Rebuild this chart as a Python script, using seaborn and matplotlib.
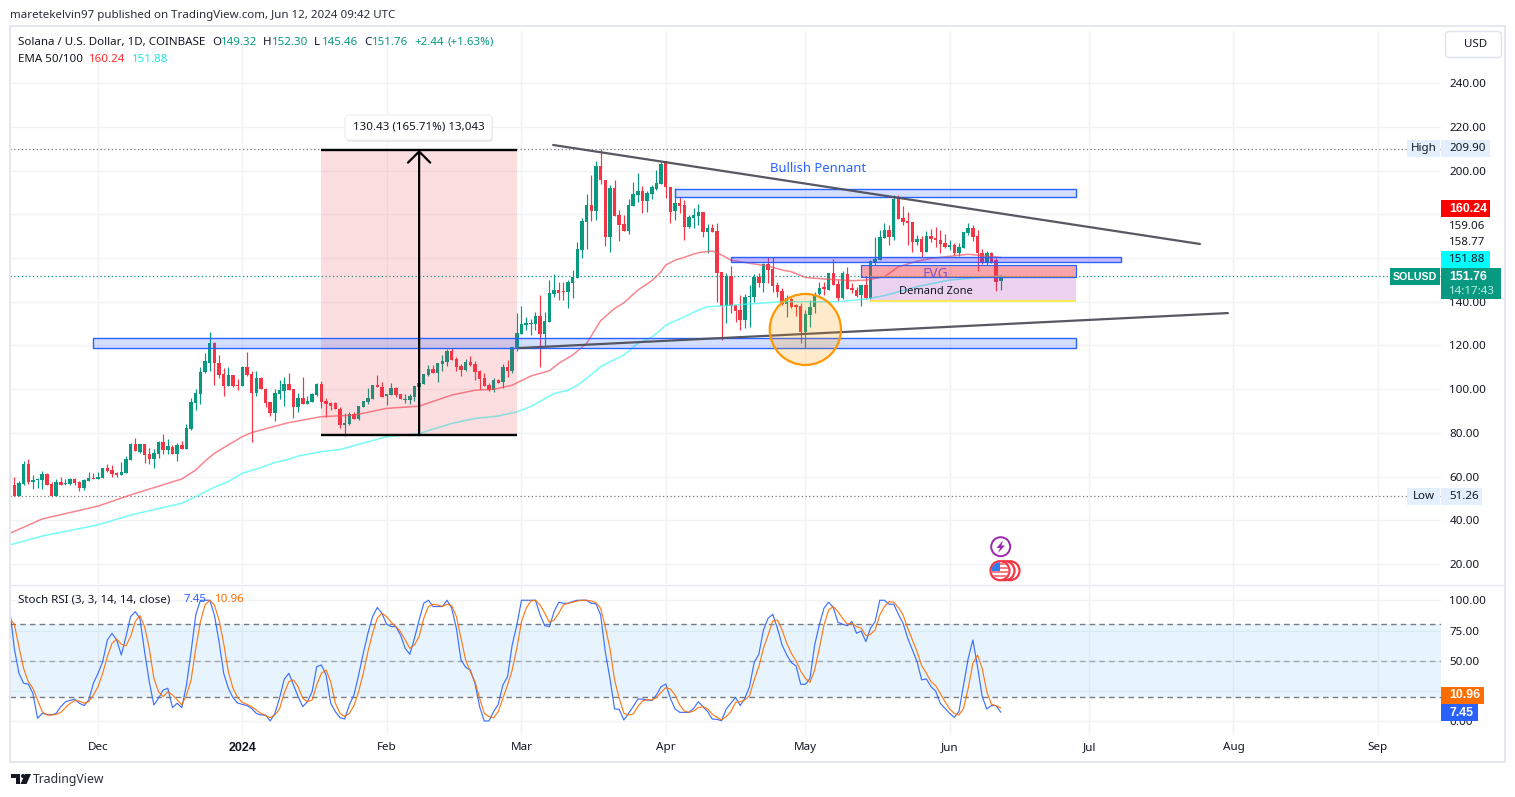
import numpy as np
import pandas as pd
import matplotlib.pyplot as plt
import seaborn as sns
from matplotlib.patches import Rectangle, Ellipse, Circle, FancyBboxPatch, Polygon

START = pd.Timestamp("2023-11-13")
GREEN = "#089981"
RED = "#f23645"
BLUE = "#2962ff"
ORANGE = "#ff6d00"
GRID = "#f1f2f6"
INK = "#131722"

opens = [
    57, 56.2, 51.1, 56.5, 65.8, 57.5, 58.5, 58.4, 61.2, 56.6, 51.1,
    57.5, 56.6, 56.6, 58.9, 57.7, 54.8, 58, 59.4, 59, 59.4,
    64, 62.8, 61.6, 60.7, 61.6, 67.6, 75, 71.2, 75, 70.3,
    68, 70.3, 75.8, 72.2, 73.5, 70.3, 74.4, 72.6, 81.8, 93.7,
    97.8, 107.8, 112, 121.1, 112, 107, 101.5, 106.5, 101.7, 101.5,
    110.1, 106.9, 98.2, 105.1, 100, 94.1, 89.1, 97.8, 99.2, 102.4,
    100, 91.8, 96, 93.2, 94.1, 97.3, 102.4, 94.6, 93.8, 93.8,
    90.7, 83.5, 84, 88.6, 86.4, 91.9, 94, 95.4, 101.8, 101.1,
    96.8, 97.3, 100.3, 97.7, 95, 95, 96.2, 100.8, 102.3, 106.4,
    109.2, 107.5, 111.4, 112.2, 117.5, 114, 110.7, 108.7, 112.2, 111.3,
    108.4, 105, 101.7, 99.5, 104.1, 103.4, 110, 108.1, 118.6, 125.2,
    129.4, 129.7, 129.7, 133.4, 125.2, 130.8, 143.5, 145.3, 144.9, 144.5,
    148.4, 150.9, 163.6, 176.6, 184.2, 181.4, 202, 195.9, 169.7, 192,
    179.6, 175.5, 172.3, 183.7, 188.6, 190.6, 186.2, 189.2, 191.4, 193.8,
    204.4, 192.6, 181.5, 185.3, 184.2, 174, 178.1, 179.2, 181.2, 172,
    173.6, 172.3, 153.4, 138.2, 151.8, 138.5, 136.2, 131.6, 142.3, 142.3,
    151.4, 148.4, 157.2, 154.8, 147.6, 145, 138.9, 141.2, 138.5, 138,
    126.3, 133.9, 137.4, 143.5, 146.6, 145.3, 153, 147.9, 141.5, 152.7,
    146.1, 145.3, 143, 147.6, 141.5, 158.3, 159.1, 169, 172.8, 169.4,
    187.3, 178.1, 176.9, 176.5, 167.5, 168.5, 162.9, 170, 169, 168.2,
    166.7, 164.9, 165.9, 162.4, 164.7, 171.3, 173.9, 170, 162.4, 157.6,
    162.1, 159.1, 149.32,
]
highs = [
    62.3, 60, 58, 67.3, 68, 60.7, 59.5, 62.6, 61.6, 57.7, 58.9,
    60, 58.9, 59.5, 59.4, 58, 58.9, 62, 61.6, 62, 64,
    65.8, 65.3, 62, 66.5, 69.4, 75.5, 77.7, 75, 75, 73,
    72.6, 76.3, 79.5, 77, 74.6, 75.4, 76.3, 84, 96, 100,
    110.1, 116.5, 126.2, 121.6, 115.6, 109.7, 110.1, 106.5, 104.6, 110.6,
    117, 108.3, 108.3, 105.6, 100.5, 94.1, 100, 104.2, 105.6, 107.4,
    100, 98.2, 105.6, 96.9, 98.2, 102.9, 103.7, 96, 94.3, 94.2,
    92, 88.9, 89.6, 89.6, 92.2, 94.7, 100.3, 101.8, 106.4, 103.1,
    98, 102.6, 101.1, 98, 98, 98, 101.4, 105.3, 106.9, 111,
    111, 112, 115.6, 118.2, 118.6, 114.5, 111.4, 114, 115.1, 112.8,
    108.7, 107.2, 102.9, 104.9, 104.7, 111.3, 113.3, 119.1, 134.9, 138,
    132.8, 132.3, 135.4, 143, 135.4, 149.9, 152.9, 148.8, 149.1, 149.9,
    154.5, 167.3, 178.5, 189.1, 197.9, 204.3, 210, 195.9, 193.3, 195.6,
    181.9, 179.6, 187.2, 194.9, 198.7, 192.9, 190.6, 193.3, 200.2, 204,
    204.4, 192.6, 191.9, 188, 186.5, 179.7, 182.7, 184.7, 181.2, 175.5,
    175.5, 176.2, 153.7, 153, 156.3, 138.5, 143, 143.5, 147.6, 152.7,
    153.3, 157.9, 160.3, 160.3, 149.2, 146.1, 143, 141.5, 139, 139.6,
    136, 141, 144.6, 149.2, 149.2, 153.3, 159.4, 149.9, 154.2, 156,
    148.4, 146.9, 147.6, 151.4, 159.1, 169.4, 172.8, 175.8, 175.1, 188.8,
    188.8, 183.8, 181.2, 176.6, 170.5, 170, 172.3, 173.1, 174, 172.8,
    171, 168.2, 166.7, 167, 172, 176.2, 175.1, 172.8, 163.9, 163.3,
    162.9, 159.8, 152.3,
]
lows = [
    54.3, 51, 51, 56.2, 56.6, 54.3, 54.8, 54.3, 56.2, 51, 51,
    56, 56.1, 56.2, 56.2, 53.4, 53.9, 58, 59, 59, 59.4,
    62, 59.8, 59.8, 60.7, 61.6, 67.6, 71.7, 70.8, 66.2, 65.8,
    64, 68.5, 70.3, 70.3, 70.3, 67.1, 72.6, 72.6, 81.3, 90.4,
    93.2, 107.4, 108.3, 101.9, 105.1, 96.9, 101.5, 101, 99.6, 101.5,
    106, 75.6, 96.9, 100, 92, 87.7, 85.6, 95.5, 92.3, 99.6,
    86.8, 89.6, 93.2, 93.2, 94.1, 96.9, 91.4, 87.1, 90.4, 90.7,
    82.3, 78.5, 83.5, 86.4, 86.1, 91.9, 93.4, 95.3, 101.2, 96.2,
    92.7, 97.3, 96.5, 95.3, 93.8, 93.2, 94.7, 100.8, 102.3, 106,
    107.2, 103.4, 108.4, 110.7, 113.3, 108.4, 106, 108.4, 110.7, 104.1,
    100, 101.4, 99.2, 98.8, 102.6, 100.6, 105.6, 107.2, 117.5, 125.2,
    127, 124.7, 127, 110.2, 120.1, 130.8, 142.2, 140.7, 140.7, 137.2,
    141.5, 150.9, 159.8, 163.9, 177, 177.3, 193.8, 165.6, 162.8, 179.2,
    167.7, 172.3, 171.2, 183.7, 185.7, 180.4, 181.1, 187.2, 191, 193.8,
    187.3, 176.2, 177.4, 180.4, 168.2, 173.6, 173.6, 175.1, 169.4, 162.1,
    172, 140, 122.5, 130.4, 134.7, 130.9, 127, 127.8, 128.6, 140,
    146.6, 144.6, 148.4, 144.6, 142.3, 138.5, 133.1, 137, 133.6, 121.3,
    118.7, 128.6, 134.7, 143, 143, 145.3, 147.6, 140.4, 141.1, 145.7,
    143.8, 142.3, 138.2, 141.2, 141.1, 156.8, 159.1, 169, 165.9, 168.2,
    177.8, 175.1, 166, 162.9, 165.9, 160.3, 162.9, 167.5, 165.2, 162.4,
    164.4, 163.7, 161.4, 160.9, 164.7, 170.5, 167.9, 154.2, 157.2, 156.8,
    157.6, 145, 145.46,
]
closes = [
    56.6, 51.1, 57, 65.8, 57.7, 58.4, 59, 61.2, 56.2, 51.1, 57.5,
    56.2, 57, 58.9, 57, 54.8, 58.4, 59.4, 59, 59.8, 64,
    62.6, 61.2, 60.7, 62, 68, 75, 71.7, 75, 69.9, 68,
    70.8, 75.8, 72.2, 74, 70.3, 74.6, 72.6, 82.2, 94.1, 98.2,
    107.8, 112.9, 121.1, 112, 106.5, 101.5, 106.5, 101.5, 101.5, 110.1,
    106.5, 98.2, 105.1, 100, 93.7, 89.1, 98.2, 99.6, 102.4, 99.6,
    91.8, 96, 93.2, 94.6, 97.8, 102.4, 94.1, 93.1, 92.5, 90.7,
    83.5, 84.3, 88.6, 86.4, 92.2, 94.5, 95.9, 101.8, 101.2, 96.5,
    97.7, 100.3, 97.3, 95.3, 95.3, 96.8, 101.4, 102.6, 106.9, 109.2,
    107.2, 112, 113, 117.5, 113.3, 110.2, 108.7, 112.2, 111, 108,
    104.6, 101.4, 99.5, 104.1, 103, 110, 108.4, 119.1, 125.5, 129.7,
    130.3, 130.3, 133.4, 125.2, 131.1, 143.8, 145.3, 144.2, 144.5, 148.8,
    151.4, 163.9, 177, 184.2, 181.4, 202, 195.6, 169.7, 192, 179.2,
    175, 172.3, 184.2, 189.2, 190.6, 186.2, 189.8, 192.3, 194.1, 202.8,
    192.3, 181.2, 185, 183.8, 174.3, 178.9, 179.7, 181.2, 172, 173.6,
    172, 153, 138.2, 151.8, 138.2, 135.7, 131.6, 142.3, 142.8, 151.4,
    148.7, 157.2, 154.5, 147.2, 144.6, 138.9, 141.5, 137.4, 137.7, 126.3,
    134.4, 137.4, 143.5, 146.1, 145.7, 153, 147.6, 141.5, 153, 145.7,
    145.3, 142.8, 147.6, 141.5, 158.8, 159.4, 169.4, 172.8, 169.4, 186.8,
    177.8, 176.6, 176.2, 167.5, 168.5, 162.9, 170, 168.5, 168.2, 166.4,
    165.2, 165.9, 162.4, 164.9, 172, 173.9, 169.4, 162.1, 157.6, 162.1,
    158.3, 149.2, 151.76,
]

# days counted from Nov 13 2023
ema50_days = [-1, 6, 18, 25, 36, 39, 41, 43, 46, 49, 51, 53, 59, 66, 73, 80, 87, 94,
              99, 103, 107, 111, 115, 117, 120, 123, 126, 129, 131, 134, 137, 139,
              140, 142, 144, 146, 147, 150, 152, 154, 158, 162, 165, 167, 170, 174,
              180, 183, 187, 190, 194, 197, 205, 212]
ema50_values = [34, 40.6, 46.5, 51.6, 58.9, 63, 67.1, 70.6, 74.5, 78.3, 80.1, 81.3,
                84.7, 87.4, 88.1, 91.2, 92.2, 97.3, 99.5, 99.9, 101.8, 106, 108.4,
                111.8, 115.6, 120.9, 131.3, 136.9, 139.5, 145.3, 149.6, 153.7, 156.8,
                159, 160.3, 161.8, 162.4, 163.2, 161.4, 159, 157.6, 156.3, 154.5,
                153.7, 151.1, 150.4, 149.6, 149.9, 151.4, 156, 158.5, 159.8, 161.7,
                160.24]
ema100_days = [-1, 6, 18, 25, 36, 39, 41, 43, 46, 49, 53, 56, 59, 61, 66, 70, 80, 87,
               94, 99, 104, 108, 111, 116, 119, 121, 123, 126, 128, 131, 134, 137,
               139, 140, 144, 147, 149, 155, 165, 177, 183, 187, 194, 201, 212]
ema100_values = [28.7, 32.8, 37.9, 42.4, 47.8, 50.8, 53, 55.1, 57.7, 61.5, 64.1, 66.4,
                 67.9, 69.4, 71.4, 72.4, 78.2, 79.7, 84.3, 86.6, 87.7, 89.6, 92, 98,
                 99.5, 101.8, 104.9, 110.2, 112.5, 115.6, 120.9, 123.7, 127.3, 129.3,
                 133.1, 136.2, 137.7, 138.5, 140, 140, 141.2, 142.8, 146.9, 149.9,
                 151.88]

stoch_k = [
    93.4, 60.3, 39.7, 31.4, 30.8, 23.1, 2.5, 6.6, 5.8, 5.2,
    6.6, 12.1, 16.2, 17.3, 18.4, 14.9, 13, 17.6, 31.4, 39.7,
    49.3, 67.2, 72.7, 67.2, 54.8, 70, 86.5, 90.6, 85.1, 57.6,
    32.8, 13.5, 19, 25.9, 27.3, 11.3, 14.9, 11.3, 30, 57.6,
    87.9, 100, 100, 100, 87.9, 65.8, 39.7, 27.3, 19.6, 15.1,
    14, 13, 10.7, 6.6, 5.2, 5.2, 0.3, 6.6, 19, 34.7,
    39.7, 30, 20.4, 12.1, 16.2, 24.5, 45.2, 46.6, 38.3, 14.9,
    8, 3, 1.9, 13.5, 21.8, 38.3, 56.2, 72.7, 86.5, 94,
    89.3, 80.2, 78.2, 78.2, 71.3, 60.3, 55.4, 68.6, 83.7, 97.5,
    100, 94.8, 94.8, 94.8, 100, 93.4, 76.9, 50.7, 44.6, 42.4,
    31.4, 12.1, 0.3, 0.3, 8, 14, 30, 36.9,
    63.1, 79.6, 100, 100, 100, 100, 87.9, 79, 78.2, 90.6,
    98.4, 97.5, 97.5, 98.9, 100, 100, 100, 97.5, 97, 87.9,
    57.6, 35.5, 10.2, 9.9, 1.1, 6.6, 12.1, 18.4, 18.4, 17.6,
    17.1, 21.8, 28.6, 30.8, 19, 10.2, 7.4, 7.4, 7.4, 10.7,
    16.2, 12.1, 8, 1.9, 1.6, 0.5, 10.2, 14.9, 19.8, 13,
    19, 28.6, 48.5, 55.4, 75.5, 85.1, 88.4, 76.9, 63.1, 54.8,
    48.5, 45.7, 30.6, 30.6, 35.5, 63.1, 79.6, 93.4, 98.4, 94,
    81.8, 80.2, 79, 82.4, 72.7, 74.6, 65.8, 76.9, 82.4, 100,
    100, 96.7, 96.7, 88.4, 81, 68.6, 59, 49.3, 34.2, 35,
    28.6, 25, 14.9, 10.7, 6.6, 3.3, 8, 30, 52, 67.2,
    45.2, 20.4, 10.2, 13, 13, 7.45,
]
stoch_d = [
    85.1, 80.2, 61.7, 43.8, 32.8, 27.3, 17.6, 8, 5.2, 5.2,
    5.8, 7.4, 11.3, 14.9, 17.1, 16.8, 14.9, 16.2, 21.8, 28.6,
    39.7, 53.4, 64.4, 68, 63.6, 62.3, 70, 82.4, 87.3, 78.2,
    60.3, 35.5, 24.5, 20.4, 24.5, 21.8, 17.6, 13.5, 21.8, 34.2,
    60.3, 82.4, 96.1, 100, 96.1, 83.7, 64.4, 41, 27.3, 19.6,
    15.7, 14, 12.1, 9.4, 6.6, 4.7, 3, 5.2, 10.2, 23.1,
    32.8, 34.2, 28.6, 19, 16.2, 17.6, 30, 39.7, 42.4, 32.8,
    14.9, 6.6, 3.9, 6.6, 13, 24.5, 39.7, 57.6, 72.7, 85.1,
    89.3, 86.5, 81.8, 78.2, 74.1, 67.2, 60.3, 63.1, 70, 85.1,
    94.8, 96.7, 96.1, 94.8, 96.7, 95.6, 86.5, 68.6, 50.7, 41,
    32.8, 19, 6.6, 3.9, 3, 8, 19, 30,
    42.4, 60.3, 82.4, 93.4, 99.4, 100, 96.1, 89.3, 81.8, 83.7,
    89.3, 96.1, 97.5, 98.4, 99.4, 100, 100, 99.4, 98, 93.4,
    78.2, 60.3, 34.2, 19, 6.6, 5.2, 6, 12.1, 16.8, 17.9,
    17.6, 19.6, 24, 27.8, 26.7, 21.8, 13.5, 8.5, 7.4, 8.5,
    11.3, 12.1, 10.2, 5.8, 3.3, 1.1, 3.9, 8, 15.7, 16.2,
    17.6, 21.2, 34.2, 45.2, 60.3, 71.3, 82.9, 83.7, 75.5, 64.4,
    56.2, 49.9, 41.6, 35.5, 32.2, 42.4, 60.3, 79.6, 92, 94.8,
    90.6, 85.1, 80.2, 81, 78.2, 76.9, 70.8, 71.9, 75.5, 87.9,
    94.8, 98.9, 98.4, 94, 87.9, 76.9, 67.2, 57.6, 46, 39.7,
    32.8, 29.5, 23.1, 16.2, 10.2, 6.6, 5.2, 10.7, 27.3, 47.9,
    54.8, 43.8, 24.5, 14, 13, 10.96,
]

month_labels = ["Dec", "2024", "Feb", "Mar", "Apr", "May", "Jun", "Jul", "Aug", "Sep"]
month_dates = ["2023-12-01", "2024-01-01", "2024-02-01", "2024-03-01", "2024-04-01",
               "2024-05-01", "2024-06-01", "2024-07-01", "2024-08-01", "2024-09-01"]
price_ticks = [20, 40, 60, 80, 100, 120, 140, 160, 180, 200, 220, 240]
hidden_price_ticks = [160, 180]
stoch_ticks = [0, 25, 50, 75, 100]

sns.set_theme(style="white")
plt.rcParams["font.family"] = ["Noto Sans", "DejaVu Sans"]
plt.rcParams["font.size"] = 8.4

fig = plt.figure(figsize=(15.15, 7.97), dpi=100, facecolor="white")
W, H = 1515, 797


def pane(left, top, right, bottom):
    return fig.add_axes([left / W, 1 - bottom / H, (right - left) / W, (bottom - top) / H])


ax = pane(10, 30, 1441, 584)
ax2 = pane(10, 585, 1441, 735)

# candles
candle_days = np.arange(-1, len(closes) - 1)
o = np.array(opens)
c = np.array(closes)
colors = [GREEN if b >= a else RED for a, b in zip(o, c)]
ax.vlines(candle_days, lows, highs, colors=colors, lw=0.85, zorder=3)
ax.bar(candle_days, np.maximum(np.abs(c - o), 0.3), bottom=np.minimum(o, c), width=0.74,
       color=colors, linewidth=0, zorder=4)

sns.lineplot(x=ema50_days, y=ema50_values, ax=ax, color="#f7525f", alpha=0.7, lw=1.1,
             errorbar=None, zorder=5)
sns.lineplot(x=ema100_days, y=ema100_values, ax=ax, color="#3dfbf3", alpha=0.7, lw=1.1,
             errorbar=None, zorder=5)

ax.axhline(209.9, color="#787b86", lw=0.9, ls=(0, (1, 2)), zorder=2)
ax.axhline(51.26, color="#787b86", lw=0.9, ls=(0, (1, 2)), zorder=2)
ax.axhline(151.76, color=GREEN, lw=0.9, ls=(0, (1, 2)), zorder=2)

# long position drawing
ax.add_patch(Rectangle((66, 79.0), 42, 130.43, fc=RED, alpha=0.16, lw=0, zorder=6))
ax.hlines([79.0, 209.43], 66, 108, color="black", lw=1.7, zorder=7)
ax.annotate("", xy=(87, 209.43), xytext=(87, 79.0), zorder=7,
            arrowprops=dict(arrowstyle="->,head_length=0.8,head_width=0.8",
                            lw=1.6, color="black", mutation_scale=10,
                            shrinkA=0, shrinkB=0))

# zones
ax.add_patch(Rectangle((16.9, 118.7), 211.3, 4.6, fc=BLUE, alpha=0.2, lw=0, zorder=6))
ax.add_patch(Rectangle((16.9, 118.7), 211.3, 4.6, fc="none", ec=BLUE, lw=1, zorder=6))
ax.add_patch(Rectangle((142, 187.7), 86.2, 3.7, fc=BLUE, alpha=0.2, lw=0, zorder=6))
ax.add_patch(Rectangle((142, 187.7), 86.2, 3.7, fc="none", ec=BLUE, lw=1, zorder=6))
ax.add_patch(Rectangle((184, 140.4), 44.2, 10.7, fc="#9c27b0", alpha=0.2, lw=0, zorder=6))
ax.hlines([140.4, 151.1], 184, 228.2, color="#ffeb3b", lw=1.2, zorder=6)
ax.add_patch(Rectangle((182, 151.1), 46.2, 5.5, fc=RED, alpha=0.45, lw=0, zorder=6))
ax.add_patch(Rectangle((182, 151.1), 46.2, 5.5, fc="none", ec=BLUE, lw=0.9, zorder=6))
ax.add_patch(Rectangle((154, 158.3), 83.9, 2.0, fc="#5e35f0", alpha=0.35, lw=0, zorder=6))
ax.add_patch(Rectangle((154, 158.3), 83.9, 2.0, fc="none", ec=BLUE, lw=1, zorder=6))

# trend lines and circle
ax.plot([115.8, 254.8], [211.7, 166.4], color="#4f4f5a", lw=1.6, alpha=0.95, zorder=7)
ax.plot([108.5, 260.8], [118.8, 134.8], color="#4f4f5a", lw=1.6, alpha=0.95, zorder=7)
ax.add_patch(Ellipse((170, 127.3), 15.3, 32.5, fc="#ff9800", alpha=0.2, lw=0, zorder=7))
ax.add_patch(Ellipse((170, 127.3), 15.3, 32.5, fc="none", ec="#ff9800", lw=1.6, zorder=8))

# stoch pane
k_days = np.arange(-1, len(stoch_k) - 1)
d_days = np.arange(-1, len(stoch_d) - 1)
ax2.axhspan(20, 80, color="#2196f3", alpha=0.1, lw=0, zorder=1)
ax2.axhline(80, color="#787b86", lw=1, ls=(0, (4, 3)), zorder=2)
ax2.axhline(20, color="#787b86", lw=1, ls=(0, (4, 3)), zorder=2)
ax2.axhline(50, color="#787b86", lw=1, ls=(0, (4, 3)), alpha=0.6, zorder=2)
sns.lineplot(x=k_days, y=stoch_k, ax=ax2, color="#2962ff", lw=0.85, alpha=0.9,
             errorbar=None, zorder=3)
sns.lineplot(x=d_days, y=stoch_d, ax=ax2, color=ORANGE, lw=0.85, alpha=0.9,
             errorbar=None, zorder=4)

# axes
month_pos = [(pd.Timestamp(m) - START).days for m in month_dates]
for a in (ax, ax2):
    a.set_xlim(-0.92, 306.6)
    a.set_xlabel("")
    a.set_ylabel("")
    a.set_facecolor("white")
    a.grid(True, color=GRID, lw=1)
    a.set_axisbelow(True)
    for s in a.spines.values():
        s.set_visible(False)
    a.set_xticks(month_pos)
    a.yaxis.tick_right()
    a.tick_params(axis="y", length=0, pad=6, labelsize=8.4, labelcolor=INK)
    a.tick_params(axis="x", length=0, pad=5, labelsize=8.4, labelcolor=INK)
ax.set_ylim(10.85, 264.3)
ax.set_yticks(price_ticks)
ax.set_yticklabels(["" if t in hidden_price_ticks else f"{t:.2f}" for t in price_ticks])
ax.tick_params(axis="x", labelbottom=False)
ax2.set_ylim(-11.3, 112.6)
ax2.set_yticks(stoch_ticks)
ax2.set_yticklabels(["" if t == 25 else f"{t:.2f}" for t in stoch_ticks])
ax2.set_xticklabels(month_labels)
for lab in ax2.get_xticklabels():
    if lab.get_text() == "2024":
        lab.set_fontweight("bold")
        lab.set_family("Liberation Sans")
        lab.set_fontsize(9)

# overlay in pixels for the frame, tags and headers
ov = fig.add_axes([0, 0, 1, 1], zorder=10)
ov.set_xlim(0, W)
ov.set_ylim(H, 0)
ov.axis("off")
ov.patch.set_alpha(0)


def label(x, y, s, color=INK, size=8.3, ha="left", weight="normal", **kw):
    if weight == "bold":
        kw.setdefault("family", "Liberation Sans")
        size = size + 0.6
    ov.text(x, y, s, color=color, fontsize=size, ha=ha, va="center", fontweight=weight, **kw)


def tag(x0, y0, x1, y1, color):
    ov.add_patch(Rectangle((x0, y0), x1 - x0, y1 - y0, fc=color, lw=0))


ov.add_patch(Rectangle((10, 26), 1495, 736, fc="none", ec="#e6e8f0", lw=1.4))
ov.plot([10, 1505], [584.5, 584.5], color="#e6e8f0", lw=1)

label(10, 15, "maretekelvin97 published on TradingView.com, Jun 12, 2024 09:42 UTC", color="#2a2e39")
label(18, 42, "Solana / U.S. Dollar, 1D, COINBASE")
for x, s, col in [(212, "O", INK), (221, "149.32", GREEN), (263, "H", INK), (272, "152.30", GREEN),
                  (314, "L", INK), (322, "145.46", GREEN), (364, "C", INK), (372, "151.76", GREEN),
                  (414, "+2.44", GREEN), (448, "(+1.63%)", GREEN)]:
    label(x, 42, s, color=col)
label(18, 59, "EMA 50/100")
label(89, 59, "160.24", color="#ff2a2a")
label(132, 59, "151.88", color="#18e8e8")
label(18, 600, "Stoch RSI (3, 3, 14, 14, close)")
label(184, 600, "7.45", color=BLUE)
label(215, 600, "10.96", color=ORANGE)

# USD button
ov.add_patch(FancyBboxPatch((1447, 33), 53, 23, boxstyle="round,pad=1.5,rounding_size=4",
                            fc="white", ec="#e0e3eb", lw=1))
label(1464, 44.5, "USD")

# measure label
ov.add_patch(FancyBboxPatch((347, 117), 145, 24, boxstyle="round,pad=1,rounding_size=4",
                            fc="#d8dae0", ec="none", alpha=0.6))
ov.add_patch(FancyBboxPatch((346, 116), 145, 23, boxstyle="round,pad=1,rounding_size=4",
                            fc="white", ec="#eceef2", lw=0.8))
label(419, 127, "130.43 (165.71%) 13,043", ha="center")

# drawing texts
label(818, 168, "Bullish Pennant", color=BLUE, size=9.4, ha="center")
label(935, 274, "FVG", color="#7e57c2", size=10, ha="center")
label(936, 291, "Demand Zone", color=INK, size=8, ha="center")

# price scale tags
tag(1407, 140, 1440, 157, "#e3effd")
tag(1441, 140, 1490, 157, "#e3effd")
label(1424, 148, "High", ha="center")
label(1449, 148, "209.90")
tag(1407, 488, 1440, 505, "#e3effd")
tag(1441, 488, 1482, 505, "#e3effd")
label(1424, 496.5, "Low", ha="center")
label(1449, 496.5, "51.26")
tag(1441, 200, 1490, 217, "#ff0000")
label(1449, 208.5, "160.24", color="white", weight="bold")
label(1449, 226, "159.06")
label(1449, 242, "158.77")
tag(1441, 251, 1490, 268, "#00ffff")
label(1449, 259.5, "151.88")
tag(1441, 268, 1501, 299, GREEN)
label(1449, 276.5, "151.76", color="white", weight="bold")
label(1449, 291, "14:17:43", color="#c5e8e1")
tag(1390, 268, 1440, 285, GREEN)
label(1415, 276.5, "SOLUSD", color="white", weight="bold", ha="center", size=7.1)
tag(1441, 687, 1484, 704, ORANGE)
label(1449, 695.5, "10.96", color="white", weight="bold")
tag(1441, 704, 1478, 721, BLUE)
label(1449, 712.5, "7.45", color="white", weight="bold")

# event markers
ov.add_patch(Circle((1000.7, 546.7), 9.5, fc="white", ec="#9c27b0", lw=1.4))
ov.add_patch(Polygon([(1003, 540.5), (996.5, 548), (1000, 548), (998, 553), (1005, 545.5), (1001.5, 545.5)],
                     fc="#9c27b0", lw=0))
for cx in (1010, 1005, 1000):
    ov.add_patch(Circle((cx, 570.7), 9.5, fc="white", ec="#f23645", lw=1.6))
clip = Circle((1000, 570.7), 8.5, transform=ov.transData)
for yy in (563, 567, 571, 575):
    r = Rectangle((990, yy), 20, 2, fc="#f47c85", lw=0)
    ov.add_patch(r)
    r.set_clip_path(clip)
r = Rectangle((990, 562), 10, 9, fc="#2f7bf0", lw=0)
ov.add_patch(r)
r.set_clip_path(clip)

# TradingView logo
ov.add_patch(Polygon([(11, 774), (20, 774), (20, 784), (15.5, 784), (15.5, 778), (11, 778)], fc=INK, lw=0))
ov.add_patch(Circle((23, 776), 2, fc=INK, lw=0))
ov.add_patch(Polygon([(25, 774), (31, 774), (26.5, 784), (20.5, 784)], fc=INK, lw=0))
label(33, 779.5, "TradingView", size=8.8, color="#2a2e39")

fig.savefig("out.png", dpi=100)
